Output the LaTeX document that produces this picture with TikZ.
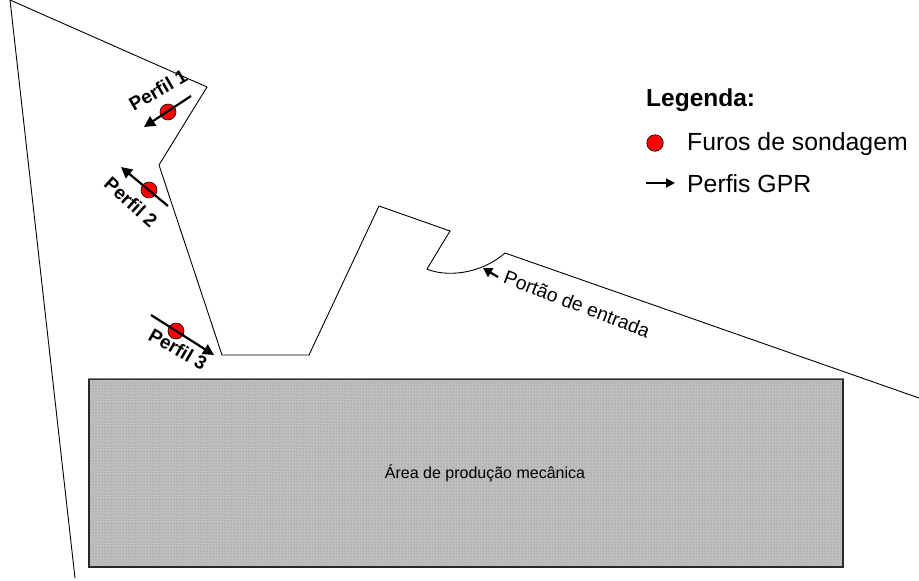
\documentclass[tikz,border=0pt]{standalone}
\usepackage{fontspec}
\setmainfont{Liberation Sans}
\usetikzlibrary{arrows.meta,patterns}
\definecolor{areafill}{gray}{0.75}
\definecolor{areadot}{gray}{0.48}
\tikzset{
  outline/.style={draw=black,line width=0.9pt},
  hole/.style={circle,draw=black,fill=red,line width=0.6pt,minimum size=16pt,inner sep=0pt},
  profile/.style={line width=2.2pt,-{Triangle[length=11pt,width=11pt]}},
  lab/.style={font=\bfseries\fontsize{19}{22}\selectfont,inner sep=0pt},
  txt/.style={font=\fontsize{24.8}{28}\selectfont,inner sep=0pt,anchor=base west},
}
\begin{document}
\begin{tikzpicture}[x=1pt,y=-1pt]
\useasboundingbox (0,0) rectangle (919,581);
\fill[white] (0,0) rectangle (919,581);
% outline
\draw[outline] (75,578) -- (10,0) -- (207,87) -- (159,165) -- (222,355) -- (309,355) -- (379,206) -- (450,231) -- (427,269)
  .. controls (445,277) and (480,275) .. (505,253) -- (919,398);
% production area
\node[draw=black!85,line width=1.4pt,fill=areafill,postaction={pattern=dots,pattern color=areadot},minimum width=754pt,minimum height=188pt,inner sep=0pt] (area) at (466,473) {};
\draw[gray,line width=1.6pt] (area.north west) -- (area.north east);
\node[font=\fontsize{16}{19}\selectfont,inner sep=0pt] (arealab) at (485,473) {Área de produção mecânica};
% holes
\node[hole] (h1) at (168,112) {};
\node[hole] (h2) at (149,190) {};
\node[hole] (h3) at (176,331) {};
% profiles
\coordinate (p1s) at (191,96); \coordinate (p1e) at (144,127);
\coordinate (p2s) at (168,206); \coordinate (p2e) at (121,167);
\coordinate (p3s) at (151,315); \coordinate (p3e) at (214,355);
\draw[profile] (p1s) -- (p1e);
\draw[profile] (p2s) -- (p2e);
\draw[profile] (p3s) -- (p3e);
\node[lab,rotate=30] (l1) at (158,90) {Perfil 1};
\node[lab,rotate=-42] (l2) at (131,202) {Perfil 2};
\node[lab,rotate=-30] (l3) at (178,349) {Perfil 3};
% gate
\node[font=\fontsize{19.3}{22}\selectfont,inner sep=0pt,rotate=-21] (gate) at (577,304) {Portão de entrada};
\coordinate (g1) at (498,277); \coordinate (g2) at (483,268);
\draw[line width=2.2pt,-{Triangle[length=9pt,width=10pt]}] (g1) -- (g2);
% legend
\node[txt,font=\bfseries\fontsize{24.5}{28}\selectfont] (leg) at (646,106) {Legenda:};
\node[hole,minimum size=16.5pt] (lh) at (655,143) {};
\node[txt] (lf) at (687,150) {Furos de sondagem};
\coordinate (la) at (646,183); \coordinate (lb) at (675,183);
\draw[line width=2.4pt,-{Triangle[length=9pt,width=9pt]}] (la) -- (lb);
\node[txt] (lp) at (687,192) {Perfis GPR};
\end{tikzpicture}
\end{document}
